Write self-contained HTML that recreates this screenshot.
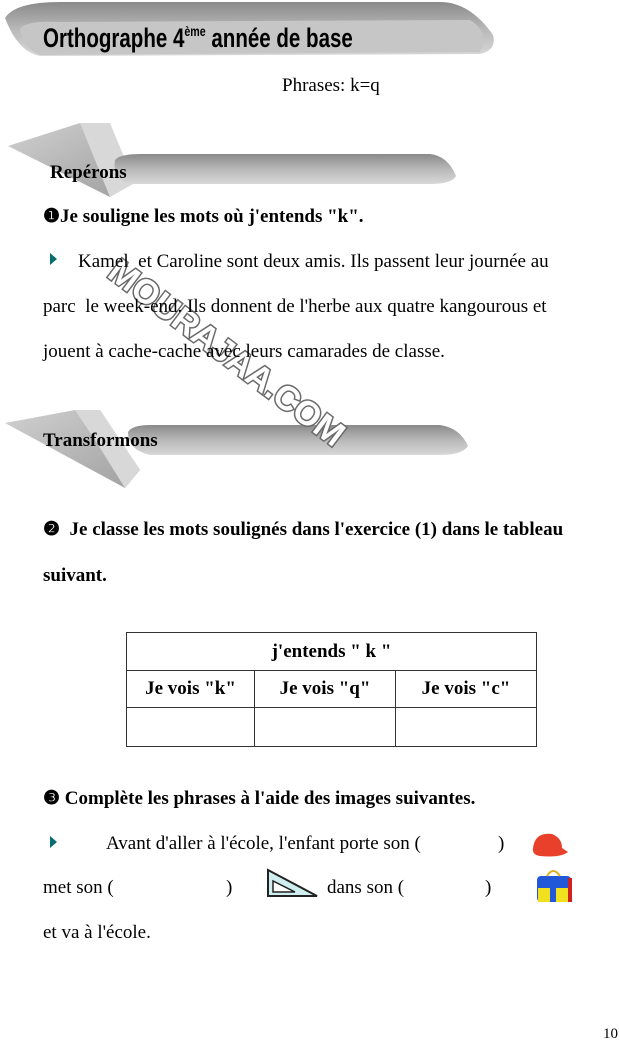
<!DOCTYPE html>
<html><head><meta charset="utf-8"><style>
body{margin:0;width:620px;height:1042px;background:#fff;position:relative;overflow:hidden;font-family:"Liberation Serif",serif;color:#000}
.t{position:absolute;white-space:nowrap;font-size:19px;line-height:1}
.b{font-weight:bold;font-size:19px}
table{position:absolute;left:126px;top:632px;border-collapse:collapse;width:411px}
td{border:1.5px solid #333;text-align:center;font-weight:bold;font-size:19px;height:36px;padding:0}
</style></head><body>
<svg width="620" height="1042" style="position:absolute;left:0;top:0">
<defs>
<linearGradient id="g1" x1="0" y1="0" x2="0" y2="1"><stop offset="0" stop-color="#8a8a8a"/><stop offset="0.5" stop-color="#b8b8b8"/><stop offset="1" stop-color="#d8d8d8"/></linearGradient>
<linearGradient id="g2" x1="0" y1="0" x2="1" y2="1"><stop offset="0" stop-color="#d0d0d0"/><stop offset="1" stop-color="#a0a0a0"/></linearGradient>
</defs>
<path d="M5,18 Q15,2 60,2 L440,2 Q470,2 493,35 Q497,50 480,54 L40,56 Q18,52 5,18 Z" fill="url(#g1)"/>
<path d="M20,28 Q30,20 60,22 L470,20 Q490,32 480,52 L40,55 Q22,48 20,28Z" fill="#c6c6c6"/>
<polygon points="8,146 80,123 110,123 130,185 110,197" fill="url(#g2)"/>
<polygon points="80,123 110,123 135,183 110,197" fill="#d8d8d8"/>
<path d="M115,160 Q120,154 140,154 L430,154 Q448,156 456,176 Q452,184 430,184 L130,184 Q112,180 115,160Z" fill="url(#g1)"/>
<polygon points="5,423 75,410 100,410 140,470 125,488" fill="url(#g2)"/>
<polygon points="75,410 100,410 140,470 125,488 95,440" fill="#d8d8d8"/>
<path d="M128,432 Q132,425 150,425 L440,425 Q460,428 468,446 Q462,455 440,455 L150,455 Q128,450 128,432Z" fill="url(#g1)"/>
<text x="0" y="0" transform="translate(106,276) rotate(37)" font-family="Liberation Sans,sans-serif" font-weight="bold" font-size="34" fill="#fff" stroke="#6a6a6a" stroke-width="3" paint-order="stroke">MOURAJAA.COM</text>
<polygon points="50,253 57,259 50,265" fill="#0a6c6c"/>
<polygon points="50,836 57,842 50,848" fill="#0a6c6c"/>
<polygon points="268,870 268,896 317,896" fill="#cfeef0" stroke="#222" stroke-width="2"/>
<polygon points="273,881 273,892 295,892" fill="#fff" stroke="#222" stroke-width="1.5"/>
<path d="M533,848 Q535,832 552,834 Q562,838 562,848 L568,852 Q560,858 540,856 Q532,855 533,848Z" fill="#e8402a"/>
<rect x="537" y="876" width="34" height="26" rx="4" fill="#2058d8"/>
<path d="M547,876 Q553,866 560,876" fill="none" stroke="#e0b020" stroke-width="2"/>
<rect x="538" y="888" width="12" height="14" fill="#f0e020"/>
<rect x="556" y="888" width="12" height="14" fill="#f0e020"/>
<rect x="568" y="878" width="4" height="24" fill="#d02020"/>
</svg>
<div class="t" style="left:43px;top:24px;font-family:'Liberation Sans',sans-serif;font-weight:bold;font-size:27px;transform:scaleX(0.76);transform-origin:left;">Orthographe 4<sup style="font-size:14px;vertical-align:11px">ème</sup> année de base</div>
<div class="t" style="left:282px;top:76px">Phrases: k=q</div>
<div class="t b" style="left:50px;top:163px">Repérons</div>
<div class="t b" style="left:43px;top:207px">❶Je souligne les mots où j'entends "k".</div>
<div class="t" style="left:78px;top:252px">Kamel&nbsp; et Caroline sont deux amis. Ils passent leur journée au</div>
<div class="t" style="left:43px;top:297px">parc&nbsp; le week-end. Ils donnent de l'herbe aux quatre kangourous et</div>
<div class="t" style="left:43px;top:342px">jouent à cache-cache avec leurs camarades de classe.</div>
<div class="t b" style="left:43px;top:431px">Transformons</div>
<div class="t b" style="left:43px;top:520px">❷&nbsp; Je classe les mots soulignés dans l'exercice (1) dans le tableau</div>
<div class="t b" style="left:43px;top:566px">suivant.</div>
<table>
<tr><td colspan="3" style="height:37px">j'entends " k "</td></tr>
<tr><td style="width:127px">Je vois "k"</td><td style="width:140px">Je vois "q"</td><td>Je vois "c"</td></tr>
<tr><td style="height:38px"></td><td></td><td></td></tr>
</table>
<div class="t b" style="left:43px;top:789px">❸ Complète les phrases à l'aide des images suivantes.</div>
<div class="t" style="left:106px;top:834px">Avant d'aller à l'école, l'enfant porte son (</div>
<div class="t" style="left:498px;top:834px">)</div>
<div class="t" style="left:43px;top:878px">met son (</div>
<div class="t" style="left:226px;top:878px">)</div>
<div class="t" style="left:327px;top:878px">dans son (</div>
<div class="t" style="left:485px;top:878px">)</div>
<div class="t" style="left:43px;top:923px">et va à l'école.</div>
<div class="t" style="left:603px;top:1027px;font-size:15px">10</div>
</body></html>
